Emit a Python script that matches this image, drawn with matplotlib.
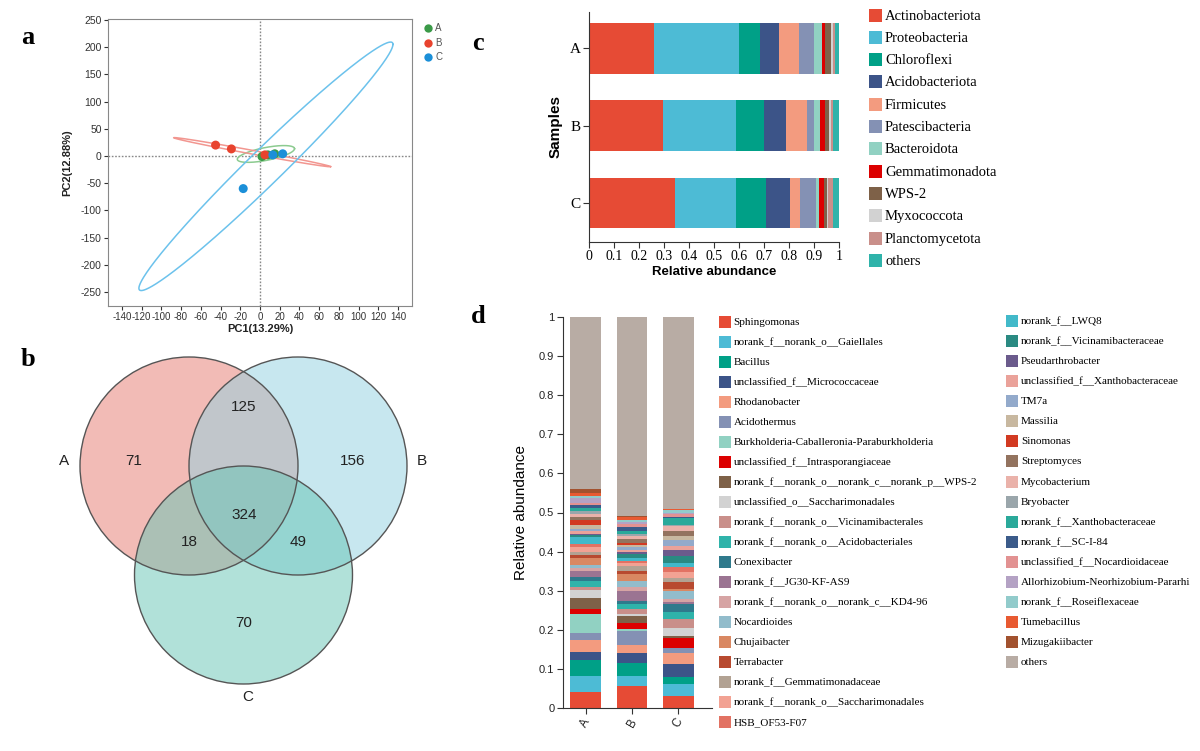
import numpy as np
import matplotlib
matplotlib.use('Agg')
import matplotlib.pyplot as plt
from matplotlib.patches import Rectangle, Circle

SERIF = ['Liberation Serif', 'DejaVu Serif']
SANS = ['Liberation Sans', 'DejaVu Sans']
plt.rcParams['font.family'] = SANS
plt.rcParams['axes.unicode_minus'] = False

W, H = 1200, 751

# ---------------- Panel a : PCA ----------------
pca_groups = ['A', 'B', 'C']
pca_colors = ['#3a9a48', '#e8432e', '#1b8fd8']
ell_colors = ['#8ccb90', '#f29690', '#6cc2ec']
pc1_A = [2, 8, 15]
pc2_A = [-1, 2, 4]
pc1_B = [-45, -29, 5]
pc2_B = [20, 13, 2]
pc1_C = [-17, 13, 23]
pc2_C = [-60, 2, 4]
ell_center = {'A': (6, 3.7), 'B': (-8, 7), 'C': (6, -19)}
ell_major = {'A': (29, 9.7), 'B': (79.5, -26.6), 'C': (128.7, 224.3)}
ell_thick = {'A': 12, 'B': 3.5, 'C': 44}
pc1_ticks = list(range(-140, 141, 20))
pc2_ticks = list(range(-250, 251, 50))

# ---------------- Panel b : Venn ----------------
venn_sets = ['A', 'B', 'C']
venn_counts = [71, 125, 156, 324, 18, 49, 70]  # A, AB, B, ABC, AC, BC, C

# ---------------- Panel c : phylum ----------------
phyla = ['Actinobacteriota', 'Proteobacteria', 'Chloroflexi', 'Acidobacteriota',
         'Firmicutes', 'Patescibacteria', 'Bacteroidota', 'Gemmatimonadota',
         'WPS-2', 'Myxococcota', 'Planctomycetota', 'others']
phylum_colors = ['#e64b35', '#4dbbd5', '#00a087', '#3c5488', '#f39b7f', '#8491b4',
                 '#91d1c2', '#dc0000', '#7e6148', '#d2d2d2', '#c98f8a', '#2fb3aa']
phy_A = [0.259, 0.341, 0.083, 0.074, 0.082, 0.058, 0.032, 0.012, 0.027, 0.008, 0.005, 0.019]
phy_B = [0.296, 0.289, 0.115, 0.087, 0.085, 0.027, 0.024, 0.021, 0.016, 0.007, 0.009, 0.024]
phy_C = [0.344, 0.241, 0.122, 0.097, 0.037, 0.064, 0.012, 0.023, 0.009, 0.007, 0.017, 0.027]
samples = ['A', 'B', 'C']
abund_ticks = [0, 0.1, 0.2, 0.3, 0.4, 0.5, 0.6, 0.7, 0.8, 0.9, 1]
abund_labels = ['0', '0.1', '0.2', '0.3', '0.4', '0.5', '0.6', '0.7', '0.8', '0.9', '1']

# ---------------- Panel d : genus ----------------
genera = ['Sphingomonas', 'norank_f__norank_o__Gaiellales', 'Bacillus',
          'unclassified_f__Micrococcaceae', 'Rhodanobacter', 'Acidothermus',
          'Burkholderia-Caballeronia-Paraburkholderia', 'unclassified_f__Intrasporangiaceae',
          'norank_f__norank_o__norank_c__norank_p__WPS-2', 'unclassified_o__Saccharimonadales',
          'norank_f__norank_o__Vicinamibacterales', 'norank_f__norank_o__Acidobacteriales',
          'Conexibacter', 'norank_f__JG30-KF-AS9', 'norank_f__norank_o__norank_c__KD4-96',
          'Nocardioides', 'Chujaibacter', 'Terrabacter', 'norank_f__Gemmatimonadaceae',
          'norank_f__norank_o__Saccharimonadales', 'HSB_OF53-F07',
          'norank_f__LWQ8', 'norank_f__Vicinamibacteraceae', 'Pseudarthrobacter',
          'unclassified_f__Xanthobacteraceae', 'TM7a', 'Massilia', 'Sinomonas',
          'Streptomyces', 'Mycobacterium', 'Bryobacter', 'norank_f__Xanthobacteraceae',
          'norank_f__SC-I-84', 'unclassified_f__Nocardioidaceae',
          'Allorhizobium-Neorhizobium-Pararhi', 'norank_f__Roseiflexaceae',
          'Tumebacillus', 'Mizugakiibacter', 'others']
genus_colors = ['#e64b35', '#4dbbd5', '#00a087', '#3c5488', '#f39b7f', '#8491b4',
                '#91d1c2', '#dc0000', '#7e6148', '#d2d2d2', '#c98f8a', '#2fb3aa',
                '#2f7a8c', '#9b7492', '#d6a4a4', '#92bccb', '#d98862', '#b84a30',
                '#b2a293', '#f2a293', '#e27263',
                '#42b9c9', '#2a8a82', '#6b5b8c', '#eaa29a', '#93aacb', '#c8b8a0',
                '#d23a22', '#93735f', '#eab2aa', '#9aa6ab', '#2aa99a', '#3b5b8a',
                '#e29292', '#b4a2c4', '#92cbcb', '#e85a32', '#a2522f', '#b8aca4']
gen_A = [0.041, 0.041, 0.042, 0.021, 0.029, 0.019, 0.048, 0.013, 0.027, 0.020,
         0.008, 0.017, 0.010, 0.014, 0.008, 0.009, 0.018, 0.007, 0.007, 0.012, 0.009,
         0.017, 0.005, 0.004, 0.006, 0.005, 0.010, 0.015, 0.006, 0.008, 0.007,
         0.009, 0.008, 0.004, 0.013, 0.004, 0.009, 0.011, 0.439]
gen_B = [0.058, 0.024, 0.033, 0.025, 0.022, 0.036, 0.005, 0.015, 0.017, 0.006,
         0.012, 0.014, 0.008, 0.024, 0.012, 0.015, 0.017, 0.007, 0.013, 0.008, 0.006,
         0.007, 0.009, 0.006, 0.006, 0.006, 0.006, 0.006, 0.010, 0.006, 0.006,
         0.007, 0.010, 0.009, 0.005, 0.005, 0.007, 0.002, 0.510]
gen_C = [0.031, 0.031, 0.017, 0.034, 0.027, 0.013, 0.002, 0.024, 0.005, 0.021,
         0.024, 0.017, 0.021, 0.004, 0.009, 0.020, 0.004, 0.019, 0.011, 0.013, 0.015,
         0.008, 0.018, 0.017, 0.009, 0.015, 0.010, 0.002, 0.011, 0.013, 0.004,
         0.017, 0.003, 0.007, 0.003, 0.008, 0.001, 0.001, 0.491]


def fx(x):
    return x / W


def fy(y):
    return 1 - y / H


def axes_px(left, top, right, bottom):
    return [fx(left), fy(bottom), (right - left) / W, (bottom - top) / H]


fig = plt.figure(figsize=(12, 7.51), dpi=100)

# ======================= Panel a =======================
axa = fig.add_axes(axes_px(108, 19, 412, 306))
axa.set_xlim(-154, 154)
axa.set_ylim(-276, 252)
axa.axhline(0, color='#888888', ls=(0, (1.2, 1.2)), lw=1, zorder=1)
axa.axvline(0, color='#888888', ls=(0, (1.2, 1.2)), lw=1, zorder=1)
t = np.linspace(0, 2 * np.pi, 400)
for g, ec in zip(pca_groups, ell_colors):
    cx, cy = ell_center[g]
    ux, uy = ell_major[g]
    h = ell_thick[g]
    axa.plot(cx + ux * np.cos(t), cy + uy * np.cos(t) + h * np.sin(t), color=ec, lw=1.1, zorder=2)
for xs, ys, c in zip([pc1_A, pc1_B, pc1_C], [pc2_A, pc2_B, pc2_C], pca_colors):
    axa.scatter(xs, ys, s=42, color=c, zorder=3, edgecolors='none')
axa.set_xticks(pc1_ticks)
axa.set_yticks(pc2_ticks)
axa.tick_params(axis='y', labelsize=7.5, colors='#333333', length=3, pad=1.5)
axa.tick_params(axis='x', labelsize=7, colors='#333333', length=3, pad=1.5)
for sp in axa.spines.values():
    sp.set_color('#888888')
axa.set_xlabel('PC1(13.29%)', fontsize=8, fontweight='bold', labelpad=1, color='#222222')
axa.set_ylabel('PC2(12.88%)', fontsize=8, fontweight='bold', labelpad=6, color='#222222')
for i, (g, c) in enumerate(zip(pca_groups, pca_colors)):
    fig.add_artist(plt.Line2D([fx(428)], [fy(28 + i * 14.5)], marker='o', markersize=6,
                              color=c, markeredgewidth=0, transform=fig.transFigure))
    fig.text(fx(435), fy(28 + i * 14.5), g, fontsize=7, color='#555555', va='center')

# ======================= Panel b =======================
axb = fig.add_axes([0, 0, 470 / W, 1 - 320 / H])
axb.set_xlim(0, 470)
axb.set_ylim(751, 320)
axb.axis('off')
venn_centers = [(189, 466), (298, 466), (243.5, 575)]
venn_fill = ['#e7796f', '#91d1e1', '#65c5b5']
for (cx, cy), fc in zip(venn_centers, venn_fill):
    axb.add_patch(Circle((cx, cy), 109, facecolor=fc, alpha=0.5, edgecolor='none'))
for (cx, cy) in venn_centers:
    axb.add_patch(Circle((cx, cy), 109, facecolor='none', edgecolor='#555555', lw=1))
venn_label_pos = [(64, 461), (422, 461), (248, 697)]
for (x, y), s in zip(venn_label_pos, venn_sets):
    axb.text(x, y, s, fontsize=11, ha='center', va='center', color='#222222')
venn_count_pos = [(134, 461), (244, 407), (353, 461), (244, 515), (189, 542), (298, 542), (244, 623)]
for (x, y), n in zip(venn_count_pos, venn_counts):
    axb.text(x, y, str(n), fontsize=11, ha='center', va='center', color='#222222')

# ======================= Panel c =======================
axc = fig.add_axes(axes_px(589.3, 12, 839.3, 241.7))
ypos = [2, 1, 0]
left = np.zeros(3)
for i, name in enumerate(phyla):
    vals = np.array([phy_A[i], phy_B[i], phy_C[i]])
    axc.barh(ypos, vals, left=left, height=0.655, color=phylum_colors[i], edgecolor='none')
    left += vals
axc.set_xlim(0, 1)
axc.set_ylim(-0.5, 2.47)
axc.set_yticks(ypos)
axc.set_yticklabels(samples, fontfamily=SERIF, fontsize=11)
axc.set_xticks(abund_ticks)
axc.set_xticklabels(abund_labels, fontfamily=SERIF, fontsize=10)
axc.spines['top'].set_visible(False)
axc.spines['right'].set_visible(False)
for sp in ['left', 'bottom']:
    axc.spines[sp].set_color('#333333')
axc.tick_params(length=4, color='#333333', pad=2)
axc.set_xlabel('Relative abundance', fontsize=9.5, fontweight='bold', labelpad=2)
axc.set_ylabel('Samples', fontsize=11, fontweight='bold', labelpad=5)

for i, (name, c) in enumerate(zip(phyla, phylum_colors)):
    yc = 15 + i * 22.3
    fig.add_artist(Rectangle((fx(868.5), fy(yc + 6.5)), 13 / W, 13 / H, facecolor=c,
                             edgecolor='none', transform=fig.transFigure))
    fig.text(fx(885), fy(yc + 1), name, fontfamily=SERIF, fontsize=10.5, va='center')

# ======================= Panel d =======================
axd = fig.add_axes(axes_px(562.7, 316.7, 711.7, 708.3))
xpos = [0, 1, 2]
bottom = np.zeros(3)
for i, name in enumerate(genera):
    vals = np.array([gen_A[i], gen_B[i], gen_C[i]])
    axd.bar(xpos, vals, bottom=bottom, width=0.66, color=genus_colors[i], edgecolor='none')
    bottom += vals
axd.set_xlim(-0.497, 2.72)
axd.set_ylim(0, 1)
axd.set_yticks(abund_ticks)
axd.set_yticklabels(abund_labels, fontsize=8)
axd.set_xticks(xpos)
axd.set_xticklabels(samples, fontsize=8.5, rotation=60)
axd.spines['top'].set_visible(False)
axd.spines['right'].set_visible(False)
for sp in ['left', 'bottom']:
    axd.spines[sp].set_color('#333333')
axd.tick_params(length=4, color='#333333', pad=2, labelcolor='#222222')
axd.set_ylabel('Relative abundance', fontsize=11, labelpad=8)

n_left = 21
for i, (name, c) in enumerate(zip(genera, genus_colors)):
    if i < n_left:
        xs, xt, yc = 718.5, 733.5, 321.7 + i * 20.03
    else:
        xs, xt, yc = 1005.5, 1021, 320.7 + (i - n_left) * 20.1
    fig.add_artist(Rectangle((fx(xs), fy(yc + 6)), 12.5 / W, 12 / H, facecolor=c,
                             edgecolor='none', transform=fig.transFigure))
    fig.text(fx(xt), fy(yc + 0.5), name, fontfamily=SERIF, fontsize=8, va='center')

# ---------------- panel letters ----------------
for s, (x, y) in zip(['a', 'b', 'c', 'd'], [(28, 37), (28, 360), (478, 44), (478, 316)]):
    fig.text(fx(x), fy(y), s, fontfamily=SERIF, fontsize=19, fontweight='bold',
             ha='center', va='center')

fig.savefig('out.png', dpi=100)
